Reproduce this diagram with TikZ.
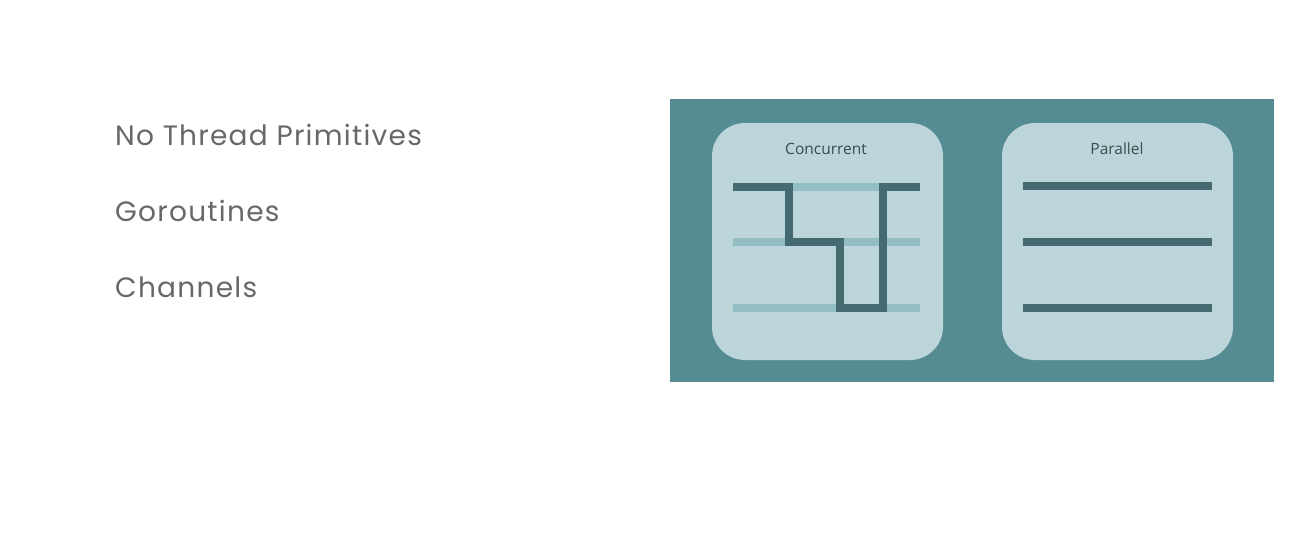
\documentclass[tikz,border=0pt]{standalone}
\usepackage{fontspec}
\setmainfont{Poppins}[LetterSpace=4.5]
\newfontfamily\labelfont{Open Sans}
\definecolor{bgteal}{HTML}{558B92}
\definecolor{boxlight}{HTML}{BCD5DA}
\definecolor{lanelight}{HTML}{93BEC4}
\definecolor{lanedark}{HTML}{456B71}
\definecolor{bullettext}{HTML}{686868}
\definecolor{titletext}{HTML}{3D4B4E}
\tikzset{
  bullet/.style={anchor=base west, inner sep=0pt, text=bullettext, font=\fontsize{28}{32}\selectfont},
  panel/.style={fill=boxlight, draw=none, rounded corners=33pt},
  paneltitle/.style={anchor=base, inner sep=0pt, text=titletext, font=\labelfont\fontsize{15.5}{18}\selectfont},
  lightlane/.style={draw=lanelight, line width=8pt},
  darklane/.style={draw=lanedark, line width=8pt},
}
\begin{document}
\begin{tikzpicture}[x=1pt,y=-1pt]
\useasboundingbox (0,0) rectangle (1299,538);
\fill[white] (0,0) rectangle (1299,538);
% bullets
\node[bullet] (b1) at (115,145) {No Thread Primitives};
\node[bullet] (b2) at (115,221) {Goroutines};
\node[bullet] (b3) at (115,297) {Channels};
% background
\fill[bgteal] (670,99) rectangle (1274,382);
% panels
\path[panel] (712,123) rectangle (943,360);
\path[panel] (1002,123) rectangle (1233,360);
\node[paneltitle] (tc) at (826,154) {Concurrent};
\node[paneltitle] (tp) at (1117,154) {Parallel};
% concurrent lanes
\draw[lightlane] (733,187) -- (920,187);
\draw[lightlane] (733,242) -- (920,242);
\draw[lightlane] (733,308) -- (920,308);
\draw[darklane, line join=miter] (733,187) -- (789,187) -- (789,242) -- (840,242) -- (840,308) -- (883,308) -- (883,187) -- (920,187);
% parallel lanes
\draw[darklane] (1023,186) -- (1212,186);
\draw[darklane] (1023,242) -- (1212,242);
\draw[darklane] (1023,308) -- (1212,308);
\end{tikzpicture}
\end{document}
